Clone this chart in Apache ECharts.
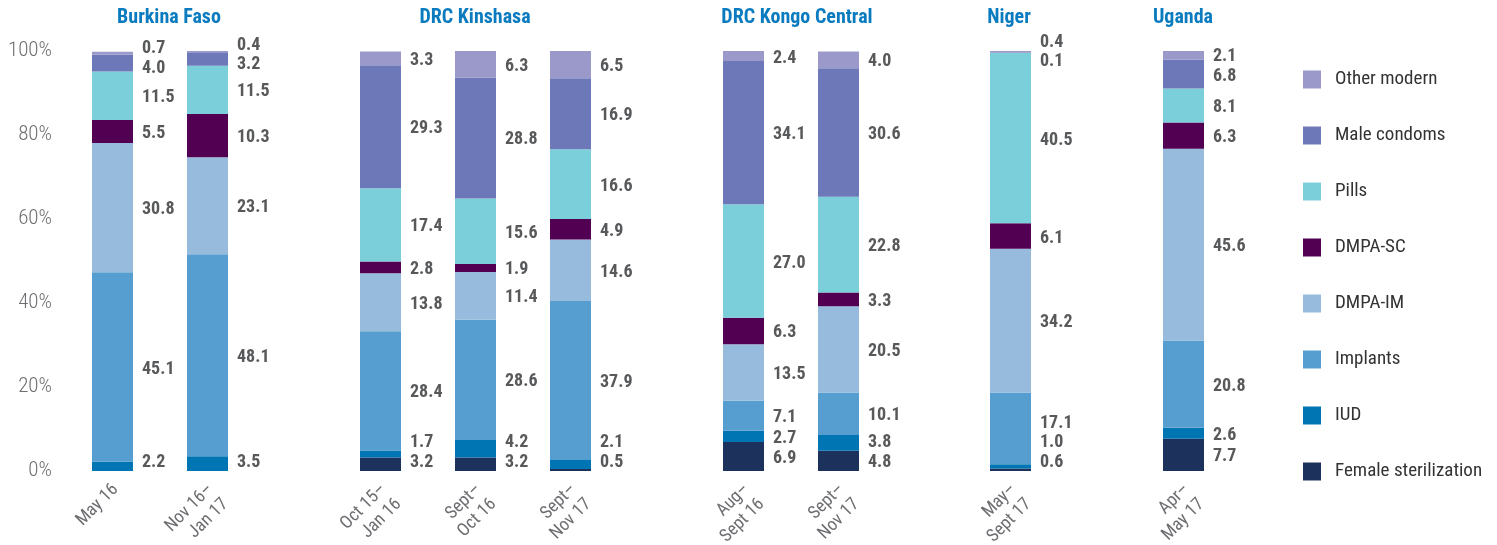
<!DOCTYPE html>
<html>
<head>
<meta charset="utf-8">
<script src="https://cdn.jsdelivr.net/npm/echarts@6/dist/echarts.min.js"></script>
<style>
html,body{margin:0;padding:0;background:#fff;}
#chart{width:1497px;height:545px;}
</style>
</head>
<body>
<div id="chart"></div>
<script>
// ---------- DATA ----------
const countries = ['Burkina Faso', 'DRC Kinshasa', 'DRC Kongo Central', 'Niger', 'Uganda'];
const periods = [
  ['May 16', 'Nov 16–\nJan 17'],
  ['Oct 15–\nJan 16', 'Sept–\nOct 16', 'Sept–\nNov 17'],
  ['Aug–\nSept 16', 'Sept–\nNov 17'],
  ['May–\nSept 17'],
  ['Apr–\nMay 17']
];
const methods = ['Female sterilization', 'IUD', 'Implants', 'DMPA-IM', 'DMPA-SC', 'Pills', 'Male condoms', 'Other modern'];
// values per bar, in order of all periods above
const femaleSterilization = [null, null, 3.2, 3.2, 0.5, 6.9, 4.8, 0.6, 7.7];
const iud                 = [2.2, 3.5, 1.7, 4.2, 2.1, 2.7, 3.8, 1.0, 2.6];
const implants            = [45.1, 48.1, 28.4, 28.6, 37.9, 7.1, 10.1, 17.1, 20.8];
const dmpaIM              = [30.8, 23.1, 13.8, 11.4, 14.6, 13.5, 20.5, 34.2, 45.6];
const dmpaSC              = [5.5, 10.3, 2.8, 1.9, 4.9, 6.3, 3.3, 6.1, 6.3];
const pills               = [11.5, 11.5, 17.4, 15.6, 16.6, 27.0, 22.8, 40.5, 8.1];
const maleCondoms         = [4.0, 3.2, 29.3, 28.8, 16.9, 34.1, 30.6, 0.1, 6.8];
const otherModern         = [0.7, 0.4, 3.3, 6.3, 6.5, 2.4, 4.0, 0.4, 2.1];
const yTicks = [0, 20, 40, 60, 80, 100];

// ---------- STYLE / LAYOUT ----------
const seriesValues = [femaleSterilization, iud, implants, dmpaIM, dmpaSC, pills, maleCondoms, otherModern];
const colors = ['#1c325c', '#0075b4', '#559ecf', '#97bbdc', '#520052', '#7acfdb', '#6c78b8', '#9b99c9'];
const FONT = "'Roboto Condensed', 'Open Sans Condensed', sans-serif";
const PLOT_TOP = 51, PLOT_H = 420;
const SLOT = 95;
const gridLefts = [65, 333, 696, 963, 1136];
const titleX = [169, 475, 797, 1009, 1183];

function valToY(v) { return PLOT_TOP + PLOT_H * (1 - v / 100); }

// compute label y-offsets per bar (avoid overlaps)
const nBars = femaleSterilization.length;
const labelDy = seriesValues.map(() => new Array(nBars).fill(0));
for (let b = 0; b < nBars; b++) {
  let cum = 0;
  const items = [];
  for (let s = 0; s < seriesValues.length; s++) {
    const v = seriesValues[s][b];
    if (v == null) continue;
    const center = valToY(cum + v / 2);
    items.push({ s, center, y: center + 2 });
    cum += v;
  }
  const gap = 19.5, maxY = 462, minY = 42;
  for (let it = 0; it < 200; it++) {
    for (const o of items) { o.y = Math.min(maxY, Math.max(minY, o.y)); }
    for (let k = 0; k < items.length - 1; k++) {
      const lo = items[k], hi = items[k + 1];
      const d = lo.y - hi.y;
      if (d < gap) { const m = gap - d; lo.y += m * 0.3; hi.y -= m * 0.7; }
    }
  }
  for (const o of items) { o.y = Math.min(maxY, Math.max(minY, o.y)); labelDy[o.s][b] = o.y - o.center; }
}

const grids = [], xAxes = [], yAxes = [], series = [], graphics = [];
let barIdx = 0;
countries.forEach((c, g) => {
  const cats = periods[g];
  grids.push({ left: gridLefts[g], top: PLOT_TOP, height: PLOT_H, width: SLOT * cats.length, containLabel: false, outerBoundsMode: 'none' });
  xAxes.push({
    type: 'category', gridIndex: g, data: cats,
    axisLine: { show: false }, axisTick: { show: false },
    axisLabel: {
      rotate: 45, margin: 4, align: 'right', verticalAlign: 'top', padding: [0, 6, 0, 0],
      color: '#6d6e71', fontFamily: FONT, fontSize: 18, lineHeight: 21, interval: 0
    }
  });
  yAxes.push({
    type: 'value', gridIndex: g, min: 0, max: 100, interval: 20,
    splitLine: { show: false }, axisLine: { show: false }, axisTick: { show: false },
    axisLabel: { show: g === 0, formatter: '{value}%', color: '#6d6e71', fontFamily: FONT, fontWeight: 300, fontSize: 21, margin: 13 }
  });
  const start = barIdx;
  methods.forEach((m, s) => {
    const data = cats.map((_, k) => {
      const b = start + k;
      const v = seriesValues[s][b];
      return {
        value: v,
        label: { show: v != null, offset: [0, labelDy[s][b]] }
      };
    });
    series.push({
      name: m, type: 'bar', stack: 'g' + g, xAxisIndex: g, yAxisIndex: g,
      barWidth: 41, data, itemStyle: { color: colors[s] },
      label: {
        position: 'right', distance: 9, color: '#58595b', fontFamily: FONT,
        fontWeight: 'bold', fontSize: 18,
        formatter: p => p.value == null ? '' : Number(p.value).toFixed(1)
      },
      emphasis: { disabled: true }, animation: false
    });
  });
  barIdx += cats.length;
  graphics.push({
    type: 'text', x: titleX[g], y: 18,
    style: { text: c, fill: '#0a7bbf', font: 'bold 20px ' + FONT, textAlign: 'center', textVerticalAlign: 'middle' }
  });
});

const chart = echarts.init(document.getElementById('chart'), null, { renderer: 'canvas' });
chart.setOption({
  animation: false,
  color: colors,
  grid: grids, xAxis: xAxes, yAxis: yAxes, series,
  graphic: graphics,
  legend: {
    orient: 'vertical', left: 1298, top: 65,
    data: methods.slice().reverse(),
    icon: 'rect', itemWidth: 18, itemHeight: 18, itemGap: 37,
    selectedMode: false,
    textStyle: { color: '#333', fontFamily: FONT, fontSize: 19, lineHeight: 18, padding: [0, 0, 0, 9] }
  }
});
</script>
</body>
</html>
